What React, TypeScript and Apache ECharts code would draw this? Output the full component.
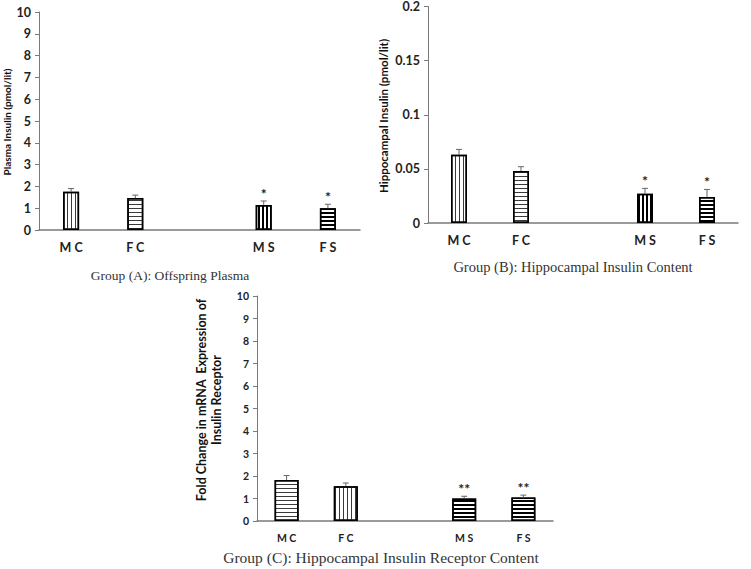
import React, { useEffect, useRef } from "react";
import * as echarts from "echarts";

const categories = ["M C", "F C", "", "M S", "F S"];

const plasmaMean = [1.75, 1.47, null, 1.15, 1.0];
const plasmaErr = [0.15, 0.13, null, 0.18, 0.18];
const plasmaSig = ["", "", "", "*", "*"];
const plasmaPattern = ["v", "h", "", "vd", "hd"];

const hippoMean = [0.063, 0.048, null, 0.027, 0.024];
const hippoErr = [0.005, 0.004, null, 0.005, 0.007];
const hippoSig = ["", "", "", "*", "*"];
const hippoPattern = ["v", "h", "", "vd", "hd"];

const receptorMean = [1.82, 1.55, null, 1.0, 1.05];
const receptorErr = [0.2, 0.14, null, 0.1, 0.1];
const receptorSig = ["", "", "", "**", "**"];
const receptorPattern = ["h", "v", "", "hd", "hd"];

const titles = [
  "Group (A): Offspring Plasma",
  "Group (B): Hippocampal Insulin Content",
  "Group (C): Hippocampal Insulin Receptor Content",
];
const yNames = [
  "Plasma Insulin (pmol/lit)",
  "Hippocampal Insulin (pmol/lit)",
  "Fold Change in mRNA  Expression of\nInsulin Receptor",
];

const decals: Record<string, any> = {
  h: { symbol: "rect", symbolSize: 1, dashArrayX: [1, 0], dashArrayY: [1, 2.6], color: "#3a3a3a", backgroundColor: "#fff" },
  v: { symbol: "rect", symbolSize: 1, dashArrayX: [1, 0], dashArrayY: [1, 2.6], rotation: Math.PI / 2, color: "#3a3a3a", backgroundColor: "#fff" },
  hd: { symbol: "rect", symbolSize: 1, dashArrayX: [1, 0], dashArrayY: [1.3, 1.5], color: "#000", backgroundColor: "#fff" },
  vd: { symbol: "rect", symbolSize: 1, dashArrayX: [1, 0], dashArrayY: [1.3, 1.5], rotation: Math.PI / 2, color: "#000", backgroundColor: "#fff" },
};

const FONT = "Lato, 'Open Sans', sans-serif";
const SERIF = "'Liberation Serif', serif";

function barSeries(idx: number, means: (number | null)[], patterns: string[], width: number) {
  return {
    type: "bar",
    xAxisIndex: idx,
    yAxisIndex: idx,
    barWidth: width,
    data: means.map((m, i) =>
      m == null
        ? "-"
        : {
            value: m,
            itemStyle: {
              color: "#fff",
              borderColor: "#000",
              borderWidth: 1.5,
              decal: decals[patterns[i]],
            },
          }
    ),
    z: 2,
  };
}

function errSeries(idx: number, means: (number | null)[], errs: (number | null)[], sig: string[], starSize: number) {
  const data: number[][] = [];
  means.forEach((m, i) => {
    if (m != null && errs[i] != null) data.push([i, m, errs[i] as number]);
  });
  return {
    type: "custom",
    xAxisIndex: idx,
    yAxisIndex: idx,
    z: 5,
    data,
    renderItem: (_params: any, api: any) => {
      const i = api.value(0);
      const m = api.value(1);
      const e = api.value(2);
      const base = api.coord([i, m]);
      const top = api.coord([i, m + e]);
      const children: any[] = [
        { type: "line", shape: { x1: base[0], y1: base[1], x2: top[0], y2: top[1] }, style: { stroke: "#666", lineWidth: 1 } },
        { type: "line", shape: { x1: top[0] - 3, y1: top[1], x2: top[0] + 3, y2: top[1] }, style: { stroke: "#666", lineWidth: 1 } },
      ];
      const s = sig[i];
      if (s) {
        children.push({
          type: "text",
          x: top[0],
          y: top[1] - 1,
          style: { text: s, font: `bold ${starSize}px ${FONT}`, fill: "#222", align: "center", verticalAlign: "bottom" },
        });
      }
      return { type: "group", children };
    },
  };
}

function xAxis(idx: number, fontSize: number, margin: number) {
  return {
    type: "category",
    gridIndex: idx,
    data: categories,
    axisTick: { show: false },
    axisLine: { lineStyle: { color: "#7a7a7a", width: 1.5 } },
    axisLabel: { fontFamily: FONT, fontWeight: "bold", fontSize, color: "#222", margin, interval: 0 },
  };
}

function yAxis(idx: number, max: number, interval: number, fontSize: number) {
  return {
    type: "value",
    gridIndex: idx,
    min: 0,
    max,
    interval,
    splitLine: { show: false },
    axisLine: { show: true, lineStyle: { color: "#7a7a7a", width: 1 } },
    axisTick: { show: true, length: 4, lineStyle: { color: "#7a7a7a" } },
    axisLabel: { fontFamily: FONT, fontWeight: "bold", fontSize, color: "#222", margin: 8 },
  };
}

export default function App() {
  const ref = useRef<HTMLDivElement>(null);
  useEffect(() => {
    if (!ref.current) return;
    const chart = echarts.init(ref.current, undefined, { renderer: "svg" });
    chart.setOption({
      animation: false,
      backgroundColor: "#fff",
      grid: [
        { left: 39, top: 12, width: 321, height: 218 },
        { left: 428, top: 5, width: 310, height: 218 },
        { left: 257, top: 296, width: 296, height: 225 },
      ],
      xAxis: [xAxis(0, 12.5, 11), xAxis(1, 12.5, 11), xAxis(2, 10.5, 11)],
      yAxis: [yAxis(0, 10, 1, 12.5), yAxis(1, 0.2, 0.05, 12.5), yAxis(2, 10, 1, 10.5)],
      series: [
        barSeries(0, plasmaMean, plasmaPattern, 16),
        errSeries(0, plasmaMean, plasmaErr, plasmaSig, 14),
        barSeries(1, hippoMean, hippoPattern, 16),
        errSeries(1, hippoMean, hippoErr, hippoSig, 14),
        barSeries(2, receptorMean, receptorPattern, 24),
        errSeries(2, receptorMean, receptorErr, receptorSig, 14),
      ],
      graphic: [
        { type: "text", x: 170, y: 275, style: { text: titles[0], font: `13.5px ${SERIF}`, fill: "#333", align: "center", verticalAlign: "middle" } },
        { type: "text", x: 573, y: 267, style: { text: titles[1], font: `14.5px ${SERIF}`, fill: "#333", align: "center", verticalAlign: "middle" } },
        { type: "text", x: 381, y: 557, style: { text: titles[2], font: `15.5px ${SERIF}`, fill: "#333", align: "center", verticalAlign: "middle" } },
        { type: "text", x: 7, y: 122, rotation: Math.PI / 2, style: { text: yNames[0], font: `bold 10px ${FONT}`, fill: "#111", align: "center", verticalAlign: "middle" } },
        { type: "text", x: 383, y: 116, rotation: Math.PI / 2, style: { text: yNames[1], font: `bold 11.5px ${FONT}`, fill: "#111", align: "center", verticalAlign: "middle" } },
        { type: "text", x: 209, y: 400, rotation: Math.PI / 2, style: { text: yNames[2], font: `bold 12.5px ${FONT}`, fill: "#111", align: "center", verticalAlign: "middle", lineHeight: 15 } },
      ],
    });
    return () => chart.dispose();
  }, []);
  return <div ref={ref} style={{ position: "absolute", left: 0, top: 0, width: 751, height: 569 }} />;
}
